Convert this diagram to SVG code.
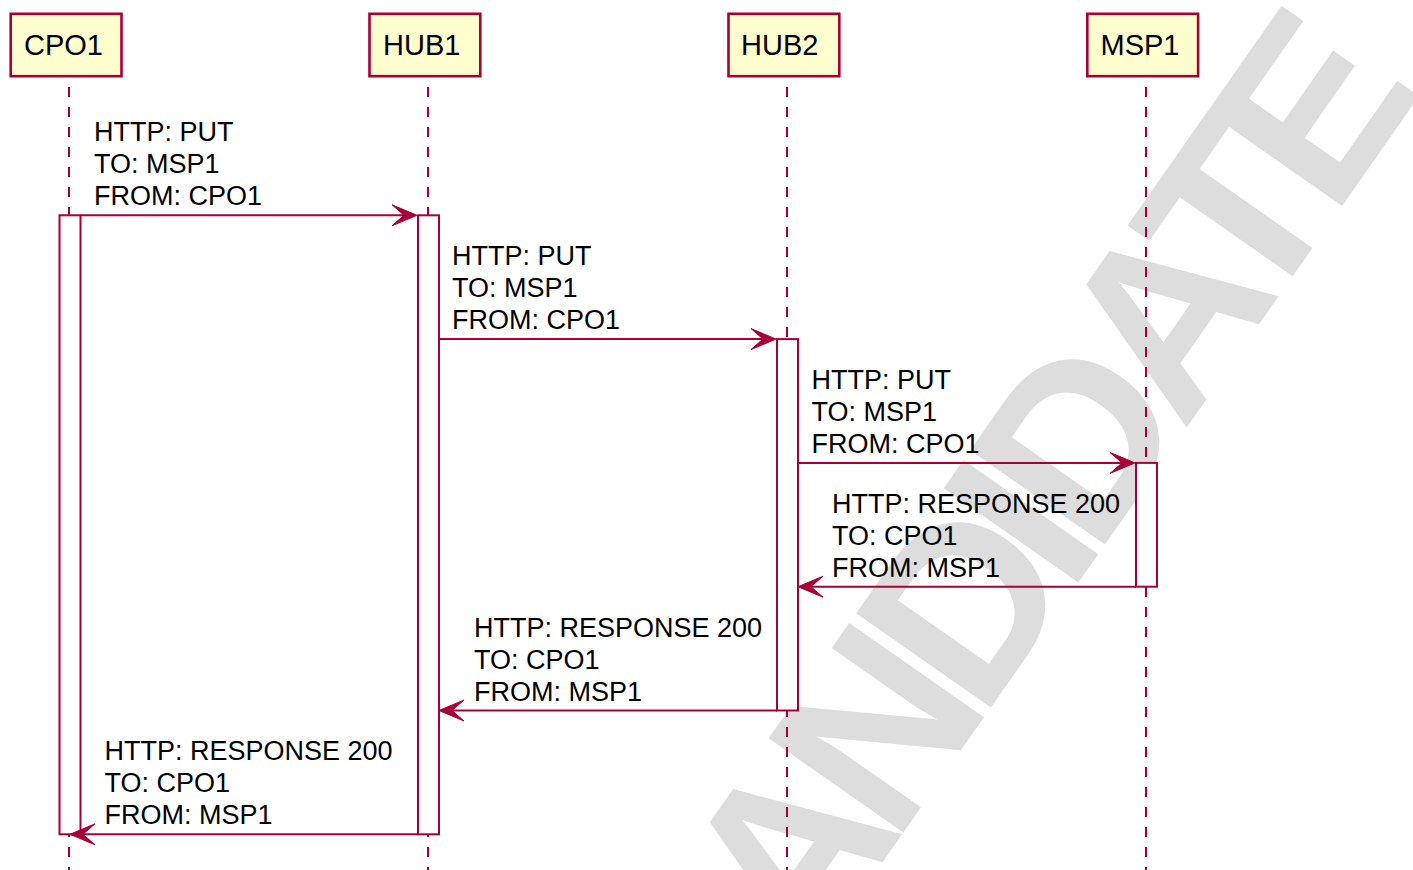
<svg xmlns="http://www.w3.org/2000/svg" width="1413" height="870" viewBox="0 0 1413 870">
<style>
.wm{font-family:"Liberation Sans",Arial,sans-serif;font-size:239px;font-weight:bold;letter-spacing:-20px;fill:#dddddd}
.box{fill:#FEFECE;stroke:#A80036;stroke-width:2.6}
.pt{font-family:"Liberation Sans",Arial,sans-serif;font-size:29px;fill:#000000}
.life{stroke:#A80036;stroke-width:2;stroke-dasharray:10,10;fill:none}
.act{fill:#FFFFFF;stroke:#A80036;stroke-width:2}
.msg{stroke:#A80036;stroke-width:2;fill:none}
.mt{font-family:"Liberation Sans",Arial,sans-serif;font-size:27px;fill:#000000}
</style>
<defs>
<marker id="ah" viewBox="-14 -12 28 24" refX="0" refY="0" markerWidth="28" markerHeight="24" markerUnits="userSpaceOnUse" orient="auto" overflow="visible">
<path d="M13,0 L-12,-10.5 L0,0 L-12,10.5 Z" fill="#A80036" stroke="#A80036" stroke-width="1"/>
</marker>
</defs>
<rect x="0" y="0" width="1413" height="870" fill="#FFFFFF"/>
<text class="wm" x="0" y="0" transform="translate(719.1 1095.6) rotate(-55)">CANDIDATE</text>

<g id="lifelines">
<line class="life" x1="69" y1="87" x2="69" y2="870"/>
<line class="life" x1="428" y1="87" x2="428" y2="870"/>
<line class="life" x1="787" y1="87" x2="787" y2="870"/>
<line class="life" x1="1146" y1="87" x2="1146" y2="870"/>
</g>

<g id="CPO1">
<rect class="box" x="10.7" y="13.8" width="110.8" height="62.4"/>
<text class="pt" x="24" y="54.8">CPO1</text>
<rect class="act" x="59.5" y="215.3" width="21" height="619"/>
</g>
<g id="HUB1">
<rect class="box" x="369.5" y="13.8" width="110.8" height="62.4"/>
<text class="pt" x="383" y="54.8">HUB1</text>
<rect class="act" x="418" y="215.3" width="21" height="619"/>
</g>
<g id="HUB2">
<rect class="box" x="728.5" y="13.8" width="110.8" height="62.4"/>
<text class="pt" x="741" y="54.8">HUB2</text>
<rect class="act" x="777" y="339.1" width="21" height="371.4"/>
</g>
<g id="MSP1">
<rect class="box" x="1087.3" y="13.8" width="110.8" height="62.4"/>
<text class="pt" x="1100.5" y="54.8">MSP1</text>
<rect class="act" x="1136" y="462.9" width="21" height="123.8"/>
</g>

<g id="connectors">
<line class="msg" x1="80.5" y1="215.3" x2="404" y2="215.3" marker-end="url(#ah)"/>
<line class="msg" x1="439" y1="339.1" x2="763" y2="339.1" marker-end="url(#ah)"/>
<line class="msg" x1="798" y1="462.9" x2="1122" y2="462.9" marker-end="url(#ah)"/>
<line class="msg" x1="1136" y1="586.7" x2="811" y2="586.7" marker-end="url(#ah)"/>
<line class="msg" x1="777" y1="710.5" x2="452" y2="710.5" marker-end="url(#ah)"/>
<line class="msg" x1="418" y1="834.3" x2="83" y2="834.3" marker-end="url(#ah)"/>
</g>

<g id="labels">
<text class="mt" x="94" y="141.3">HTTP: PUT</text>
<text class="mt" x="94" y="173.3">TO: MSP1</text>
<text class="mt" x="94" y="205.3">FROM: CPO1</text>

<text class="mt" x="452" y="265.1">HTTP: PUT</text>
<text class="mt" x="452" y="297.1">TO: MSP1</text>
<text class="mt" x="452" y="329.1">FROM: CPO1</text>

<text class="mt" x="811.5" y="388.9">HTTP: PUT</text>
<text class="mt" x="811.5" y="420.9">TO: MSP1</text>
<text class="mt" x="811.5" y="452.9">FROM: CPO1</text>

<text class="mt" x="832" y="512.7">HTTP: RESPONSE 200</text>
<text class="mt" x="832" y="544.7">TO: CPO1</text>
<text class="mt" x="832" y="576.7">FROM: MSP1</text>

<text class="mt" x="474" y="636.5">HTTP: RESPONSE 200</text>
<text class="mt" x="474" y="668.5">TO: CPO1</text>
<text class="mt" x="474" y="700.5">FROM: MSP1</text>

<text class="mt" x="104.5" y="760.3">HTTP: RESPONSE 200</text>
<text class="mt" x="104.5" y="792.3">TO: CPO1</text>
<text class="mt" x="104.5" y="824.3">FROM: MSP1</text>
</g>
</svg>
